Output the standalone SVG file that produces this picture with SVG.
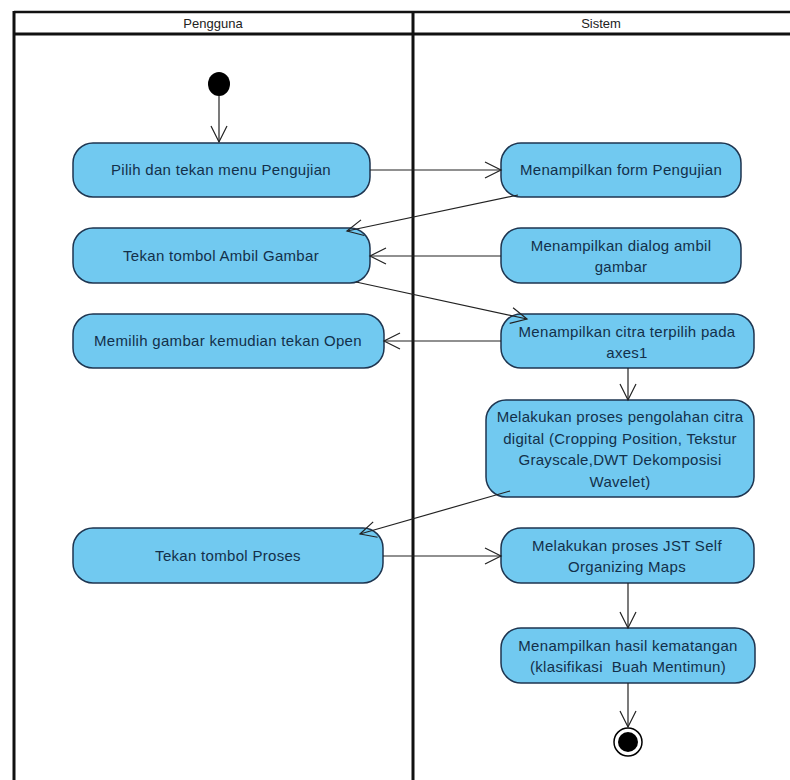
<svg xmlns="http://www.w3.org/2000/svg" width="790" height="780" viewBox="0 0 790 780">
  <style>
    .lane { fill: none; stroke: #111; }
    .hdr { font-family: "Liberation Sans", Arial, sans-serif; font-size: 13px; fill: #222; text-anchor: middle; }
    .act rect { fill: #71c9f0; stroke: #1e3550; stroke-width: 1.5; }
    .act text { font-family: "Liberation Sans", Arial, sans-serif; font-size: 15px; letter-spacing: 0.3px; fill: #13304a; text-anchor: middle; }
    .flow { fill: none; stroke: #222; stroke-width: 1.2; }
  </style>
  <defs>
    <marker id="open" viewBox="0 0 20 20" refX="18" refY="10" markerWidth="20" markerHeight="20" markerUnits="userSpaceOnUse" orient="auto">
      <path d="M2,2 L18,10 L2,18" fill="none" stroke="#222" stroke-width="1.2"/>
    </marker>
  </defs>
  <rect width="790" height="780" fill="#fff"/>

  <!-- swimlanes -->
  <g id="lanes">
    <line class="lane" x1="14" y1="12" x2="790" y2="12" stroke-width="2.5"/>
    <line class="lane" x1="14" y1="34" x2="790" y2="34" stroke-width="3"/>
    <line class="lane" x1="14" y1="11" x2="14" y2="780" stroke-width="3"/>
    <line class="lane" x1="413" y1="11" x2="413" y2="780" stroke-width="3"/>
    <text class="hdr" x="213" y="28">Pengguna</text>
    <text class="hdr" x="601" y="28">Sistem</text>
  </g>

  <!-- initial node -->
  <g id="start">
    <ellipse cx="219" cy="84" rx="11" ry="12" fill="#000"/>
  </g>

  <!-- Pengguna lane -->
  <g id="pilihMenu" class="act">
    <rect x="73" y="143" width="297" height="54" rx="20"/>
    <text x="221" y="175">Pilih dan tekan menu Pengujian</text>
  </g>
  <g id="tekanAmbil" class="act">
    <rect x="73" y="228" width="297" height="55" rx="20"/>
    <text x="221" y="261">Tekan tombol Ambil Gambar</text>
  </g>
  <g id="memilihGambar" class="act">
    <rect x="73" y="314" width="311" height="54" rx="20"/>
    <text x="228" y="346">Memilih gambar kemudian tekan Open</text>
  </g>
  <g id="tekanProses" class="act">
    <rect x="73" y="528" width="310" height="55" rx="20"/>
    <text x="228" y="561">Tekan tombol Proses</text>
  </g>

  <!-- Sistem lane -->
  <g id="formPengujian" class="act">
    <rect x="501" y="143" width="240" height="54" rx="20"/>
    <text x="621" y="175">Menampilkan form Pengujian</text>
  </g>
  <g id="dialogAmbil" class="act">
    <rect x="501" y="228" width="240" height="55" rx="20"/>
    <text x="621" y="251">Menampilkan dialog ambil</text>
    <text x="621" y="272">gambar</text>
  </g>
  <g id="citraTerpilih" class="act">
    <rect x="501" y="314" width="253" height="54" rx="20"/>
    <text x="627" y="337">Menampilkan citra terpilih pada</text>
    <text x="627" y="358">axes1</text>
  </g>
  <g id="pengolahanCitra" class="act">
    <rect x="486" y="400" width="268" height="97" rx="20"/>
    <text x="620" y="422">Melakukan proses pengolahan citra</text>
    <text x="620" y="444">digital (Cropping Position, Tekstur</text>
    <text x="620" y="465">Grayscale,DWT Dekomposisi</text>
    <text x="620" y="487">Wavelet)</text>
  </g>
  <g id="prosesJST" class="act">
    <rect x="501" y="528" width="253" height="55" rx="20"/>
    <text x="627" y="551">Melakukan proses JST Self</text>
    <text x="627" y="572">Organizing Maps</text>
  </g>
  <g id="hasilKematangan" class="act">
    <rect x="501" y="628" width="254" height="55" rx="20"/>
    <text x="628" y="651">Menampilkan hasil kematangan</text>
    <text x="628" y="672" xml:space="preserve">(klasifikasi  Buah Mentimun)</text>
  </g>

  <!-- final node -->
  <g id="end">
    <circle cx="628" cy="742" r="14" fill="#fff" stroke="#000" stroke-width="1.5"/>
    <circle cx="628" cy="742" r="10" fill="#000"/>
  </g>

  <!-- control flows, drawn on top so arrowheads overlap node edges -->
  <g id="connectors">
    <line class="flow" x1="219" y1="96" x2="219" y2="142" marker-end="url(#open)"/>
    <line class="flow" x1="370" y1="170" x2="501" y2="170" marker-end="url(#open)"/>
    <line class="flow" x1="518" y1="195" x2="347" y2="231" marker-end="url(#open)"/>
    <line class="flow" x1="501" y1="256" x2="370" y2="256" marker-end="url(#open)"/>
    <line class="flow" x1="356" y1="282" x2="527" y2="319" marker-end="url(#open)"/>
    <line class="flow" x1="501" y1="341" x2="384" y2="341" marker-end="url(#open)"/>
    <line class="flow" x1="628" y1="368" x2="628" y2="400" marker-end="url(#open)"/>
    <line class="flow" x1="510" y1="491" x2="360" y2="534" marker-end="url(#open)"/>
    <line class="flow" x1="383" y1="556" x2="501" y2="556" marker-end="url(#open)"/>
    <line class="flow" x1="628" y1="583" x2="628" y2="628" marker-end="url(#open)"/>
    <line class="flow" x1="628" y1="683" x2="628" y2="727" marker-end="url(#open)"/>
  </g>
</svg>
